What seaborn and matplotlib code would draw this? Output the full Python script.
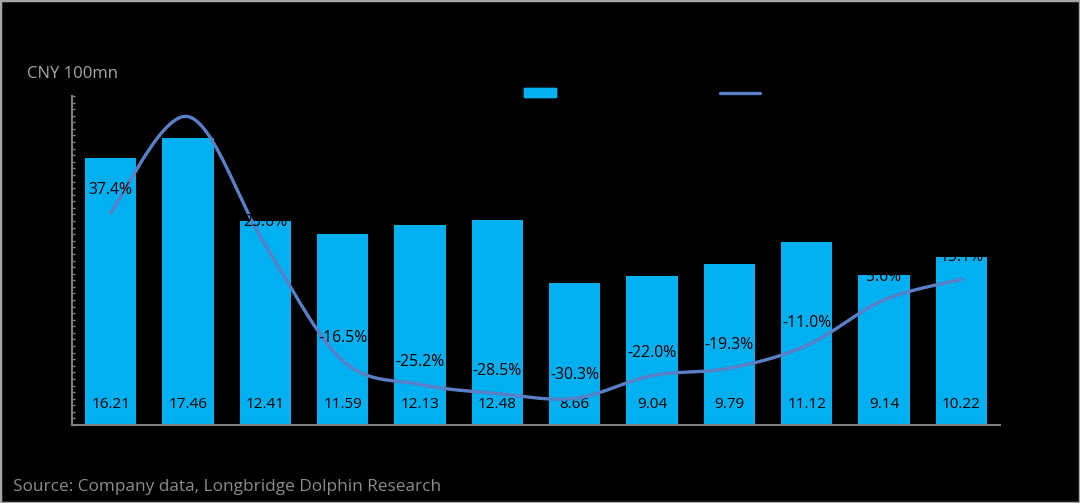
import numpy as np
import pandas as pd
import matplotlib
matplotlib.use('Agg')
import matplotlib.pyplot as plt
import seaborn as sns
from matplotlib.patches import Patch, Rectangle
from matplotlib.lines import Line2D
from matplotlib.ticker import MultipleLocator

# 数据
quarters = ['3Q20', '4Q20', '1Q21', '2Q21', '3Q21', '4Q21',
            '1Q22', '2Q22', '3Q22', '4Q22', '1Q23', '2Q23']
revenue = [16.21, 17.46, 12.41, 11.59, 12.13, 12.48, 8.66, 9.04, 9.79, 11.12, 9.14, 10.22]
yoy = [37.4, 72.5, 25.6, -16.5, -25.2, -28.5, -30.3, -22.0, -19.3, -11.0, 5.6, 13.1]

bar_color = '#00B0F0'
line_color = '#5b7fc7'
label_color = '#000000'

sns.set_style('dark')
plt.rcParams['font.family'] = ['Open Sans', 'DejaVu Sans']


def catmull_rom(xs, ys, n=30):
    # 平滑曲线 (类似 Excel 的平滑线)
    p = np.column_stack([xs, ys]).astype(float)
    p = np.vstack([p[0], p, p[-1]])
    out = []
    t = np.linspace(0, 1, n)[:, None]
    for i in range(1, len(p) - 2):
        p0, p1, p2, p3 = p[i - 1], p[i], p[i + 1], p[i + 2]
        seg = 0.5 * (2 * p1 + (-p0 + p2) * t + (2 * p0 - 5 * p1 + 4 * p2 - p3) * t ** 2
                     + (-p0 + 3 * p1 - 3 * p2 + p3) * t ** 3)
        out.append(seg if i == 1 else seg[1:])
    out = np.vstack(out)
    return out[:, 0], out[:, 1]


df = pd.DataFrame({'quarter': quarters, 'revenue': revenue, 'yoy': yoy})

fig = plt.figure(figsize=(10.8, 5.03), dpi=100, facecolor='black')
ax = fig.add_axes([72 / 1080, 78 / 503, 928 / 1080, 329 / 503])
ax.set_facecolor('black')

sns.barplot(data=df, x='quarter', y='revenue', color=bar_color, saturation=1,
            width=0.66, edgecolor='none', linewidth=0, ax=ax)
ax.set_xlim(-0.5, 11.5)
ax.set_ylim(0, 20)
ax.set_xlabel('')
ax.set_ylabel('')
ax.grid(False)

for s in ['top', 'right']:
    ax.spines[s].set_visible(False)
for s in ['left', 'bottom']:
    ax.spines[s].set_color('#7f7f7f')
    ax.spines[s].set_linewidth(1.5)

ax.yaxis.set_major_locator(MultipleLocator(2))
ax.yaxis.set_minor_locator(MultipleLocator(0.4))
ax.tick_params(axis='y', which='both', direction='in', length=2.5, width=1,
               color='#7f7f7f', left=True, labelleft=False)
ax.tick_params(axis='x', length=0, labelbottom=False)

for i, v in enumerate(revenue):
    ax.annotate(f'{v:.2f}', (i, 0), xytext=(0, 14.5), textcoords='offset points',
                ha='center', va='center', fontsize=11, color=label_color)

# 同比增速 (次坐标轴)
ax2 = ax.twinx()
ax2.set_ylim(-40, 80)
ax2.set_axis_off()
sx, sy = catmull_rom(np.arange(len(yoy)), yoy)
ax2.plot(sx, sy, color=line_color, lw=2.4, solid_capstyle='round')
for i, v in enumerate(yoy):
    ax2.annotate(f'{v:.1f}%', (i, v), xytext=(0, 16.5), textcoords='offset points',
                 ha='center', va='center', fontsize=11.3, color=label_color)

# 图例
leg1 = fig.legend(handles=[Patch(color=bar_color)], labels=['Revenue'],
                  loc='center left', bbox_to_anchor=(524 / 1080, 1 - 94 / 503),
                  frameon=False, borderpad=0, borderaxespad=0, fontsize=10,
                  handlelength=2.3, handleheight=0.6, labelcolor='black')
leg2 = fig.legend(handles=[Line2D([0], [0], color=line_color, lw=2.4)], labels=['YoY'],
                  loc='center left', bbox_to_anchor=(720 / 1080, 1 - 94 / 503),
                  frameon=False, borderpad=0, borderaxespad=0, fontsize=10,
                  handlelength=2.9, labelcolor='black')
fig.add_artist(leg1)

fig.text(27 / 1080, 1 - 74 / 503, 'CNY 100mn', ha='left', va='center',
         fontsize=12, color='#a6a6a6')
fig.text(13 / 1080, 1 - 487 / 503, 'Source: Company data, Longbridge Dolphin Research',
         ha='left', va='center', fontsize=12.4, color='#8c8c8c')

fig.add_artist(Rectangle((0, 0), 1, 1, transform=fig.transFigure, fill=False,
                         edgecolor='#a6a6a6', lw=2.5))

fig.savefig('out.png', dpi=100, facecolor='black')
